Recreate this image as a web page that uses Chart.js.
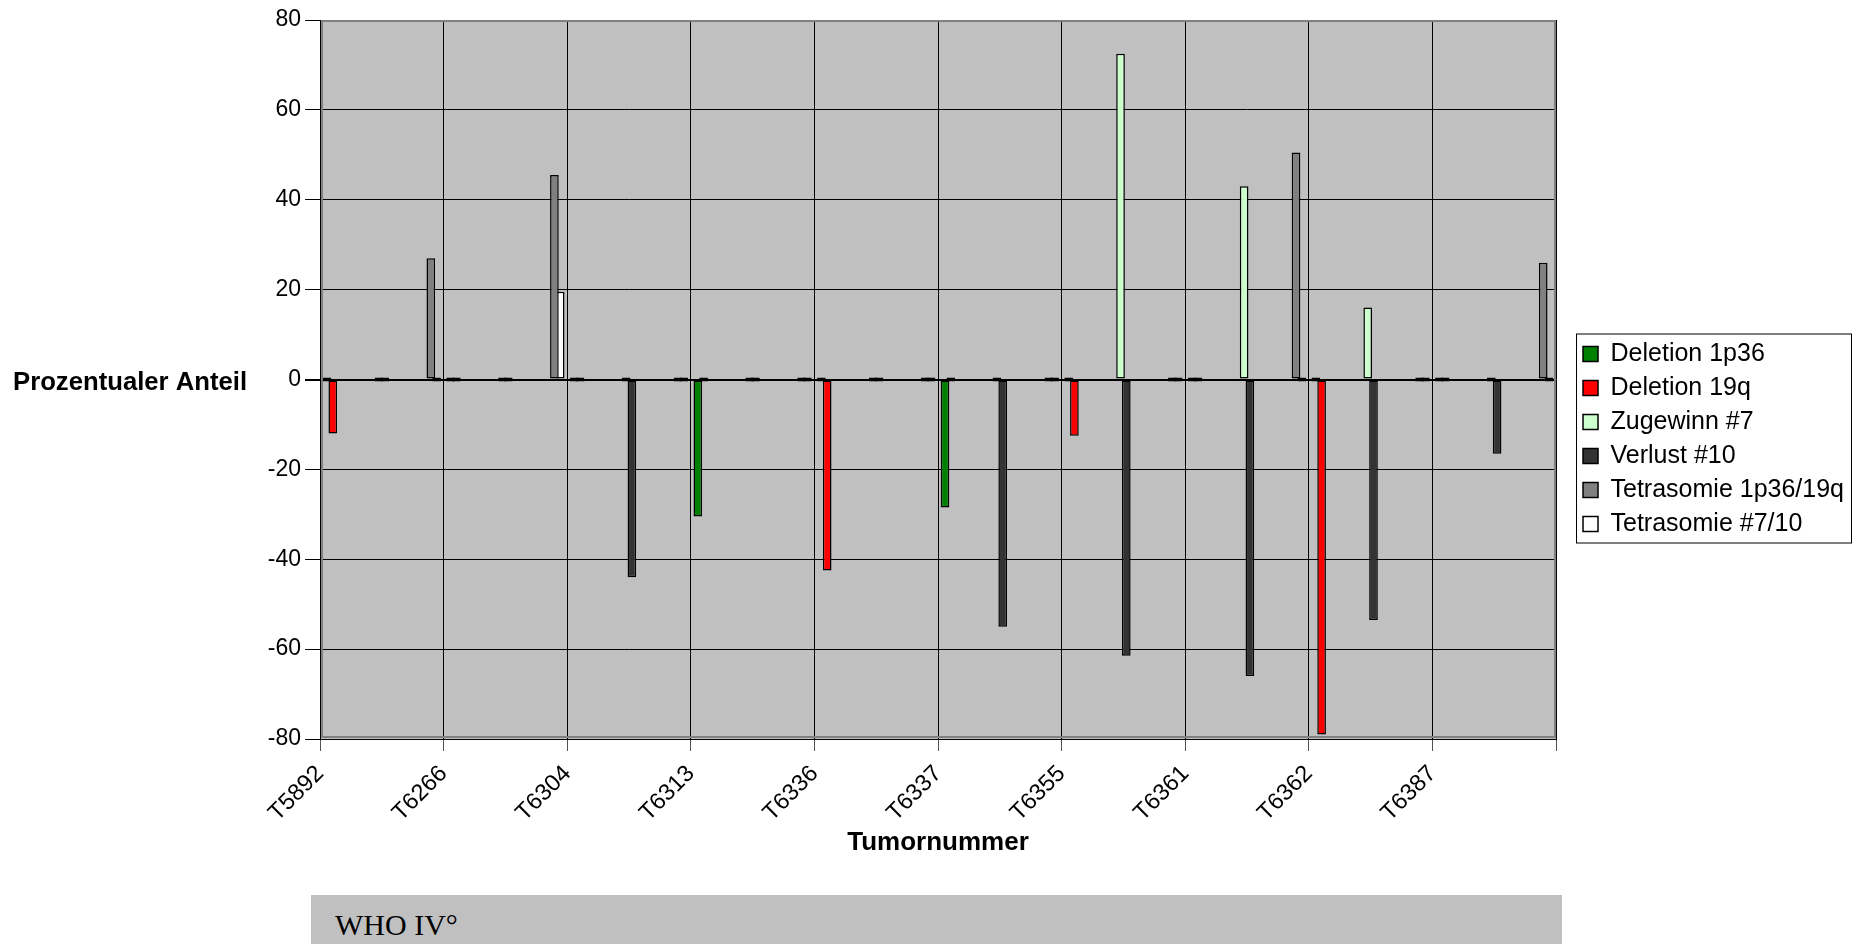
<!DOCTYPE html>
<html>
<head>
<meta charset="utf-8">
<title>Tumornummer</title>
<script src="https://cdn.jsdelivr.net/npm/chart.js@4.4.1/dist/chart.umd.min.js"></script>
<style>
  html, body { margin: 0; padding: 0; background: #fff; }
  #wrap { position: relative; width: 1854px; height: 944px; }
  #who {
    position: absolute; left: 311px; top: 895px; width: 1251px; height: 49px;
    box-sizing: border-box; padding: 15px 0 0 24px;
    background: #c0c0c0; color: #000;
    font-family: 'Liberation Serif', 'Times New Roman', serif; font-size: 30px; line-height: 30px;
  }
</style>
</head>
<body>
<div id="wrap">
  <canvas id="tumorChart"></canvas>
  <div id="who">WHO IV°</div>
</div>
<script>
"use strict";

// categories
const tumors = ['T5892', 'T6266', 'T6304', 'T6313', 'T6336', 'T6337', 'T6355', 'T6361', 'T6362', 'T6387'];

// series values (Prozent)
const deletion1p36    = [0, 0, 0, -30.5, 0, -28.5, 0, 0, 0, 0];
const deletion19q     = [-12, 0, 0, 0, -42.5, 0, -12.5, 0, -79, 0];
const zugewinn7       = [0, 0, 0, 0, 0, 0, 72.5, 43, 16, 0];
const verlust10       = [0, 0, -44, 0, 0, -55, -61.5, -66, -53.5, -16.5];
const tetra1p36_19q   = [27, 45.5, 0, 0, 0, 0, 0, 50.5, 0, 26];
const tetra7_10       = [0, 19.5, 0, 0, 0, 0, 0, 0, 0, 0];

// y ticks
const yMin = -80;
const yMax = 80;
const yStep = 20;

const FONT = "'Liberation Sans', Arial, sans-serif";

function series(label, data, color) {
  return { label: label, data: data, backgroundColor: color };
}

// empty datasets that only hold a slot, so the bars come in pairs like the original
function spacers(n) {
  const list = [];
  for (let i = 0; i < n; i++) {
    list.push({ label: '', data: [], backgroundColor: 'rgba(0,0,0,0)' });
  }
  return list;
}

const datasets = [
  series('Deletion 1p36', deletion1p36, '#008000'),
  series('Deletion 19q', deletion19q, '#ff0000'),
  ...spacers(7),
  series('Zugewinn #7', zugewinn7, '#ccffcc'),
  series('Verlust #10', verlust10, '#333333'),
  ...spacers(7),
  series('Tetrasomie 1p36/19q', tetra1p36_19q, '#808080'),
  series('Tetrasomie #7/10', tetra7_10, '#ffffff')
];

// grey plot background + frame
const plotBackground = {
  id: 'plotBackground',
  beforeDraw(chart) {
    const a = chart.chartArea;
    const ctx = chart.ctx;
    ctx.save();
    ctx.fillStyle = '#c0c0c0';
    ctx.fillRect(a.left, a.top, a.right - a.left, a.bottom - a.top);
    ctx.restore();
  },
  beforeDatasetsDraw(chart) {
    const a = chart.chartArea;
    const ctx = chart.ctx;
    ctx.save();
    ctx.strokeStyle = '#808080';
    ctx.lineWidth = 2;
    ctx.strokeRect(a.left + 2, a.top + 1, a.right - a.left - 3, a.bottom - a.top - 3);
    ctx.restore();
  }
};

// horizontal y title at the zero line
const yTitle = {
  id: 'yTitle',
  afterDraw(chart) {
    const ctx = chart.ctx;
    const y = chart.scales.y.getPixelForValue(0) + 3;
    ctx.save();
    ctx.fillStyle = '#000';
    ctx.font = 'bold 25.7px ' + FONT;
    ctx.textAlign = 'left';
    ctx.textBaseline = 'middle';
    ctx.fillText('Prozentualer Anteil', 13, y);
    ctx.restore();
  }
};

// move legend down a bit and draw a frame round it
const legendFrame = {
  id: 'legendFrame',
  afterLayout(chart) {
    const lg = chart.legend;
    const shift = 439 - (lg.top + lg.bottom) / 2;
    lg.top += shift;
    lg.bottom += shift;
  },
  afterDraw(chart) {
    const lg = chart.legend;
    const hb = lg.legendHitBoxes;
    if (!hb || !hb.length) return;
    const last = hb[hb.length - 1];
    const ctx = chart.ctx;
    ctx.save();
    ctx.strokeStyle = '#000';
    ctx.lineWidth = 1;
    const x0 = lg.left + 2.5;
    const x1 = lg.right - 2.5;
    const y0 = hb[0].top - 7.5;
    const y1 = last.top + last.height + 6.5;
    ctx.strokeRect(x0, y0, x1 - x0, y1 - y0);
    ctx.restore();
  }
};

const ctx = document.getElementById('tumorChart').getContext('2d');
const tumorChart = new Chart(ctx, {
  type: 'bar',
  data: {
    labels: tumors,
    datasets: datasets
  },
  options: {
    responsive: true,
    maintainAspectRatio: false,
    animation: false,
    layout: { padding: { top: 20, right: 0, bottom: 0, left: 0 } },
    datasets: {
      bar: {
        categoryPercentage: 0.933,
        barPercentage: 1.5,
        borderColor: '#000',
        // zero values show as small black dashes on the zero line
        borderWidth: c => (c.raw === 0 ? 2 : 1.5),
        borderSkipped: false,
        minBarLength: 4
      }
    },
    scales: {
      x: {
        offset: true,
        grid: { offset: true, color: '#000', lineWidth: 1, tickLength: 12, tickColor: '#555' },
        border: { color: '#000', width: 1 },
        ticks: {
          color: '#000',
          font: { family: FONT, size: 23.5 },
          minRotation: 45,
          maxRotation: 45,
          autoSkip: false,
          labelOffset: -61.65,
          padding: 9
        },
        title: {
          display: true,
          text: 'Tumornummer',
          color: '#000',
          font: { family: FONT, size: 26, weight: 'bold' },
          padding: { top: 0, bottom: 86 }
        },
        afterFit(scale) { scale.height = 205; }
      },
      y: {
        min: yMin,
        max: yMax,
        ticks: { stepSize: yStep, color: '#000', font: { family: FONT, size: 23 }, padding: 4 },
        grid: {
          color: '#000',
          lineWidth: c => (c.tick && c.tick.value === 0 ? 2 : 1),
          tickLength: 15
        },
        border: { color: '#000', width: 1 },
        afterFit(scale) { scale.width = 320; }
      },
      gap: {
        position: 'right',
        grid: { display: false },
        ticks: { display: false },
        border: { display: false },
        afterFit(scale) { scale.width = 18; }
      }
    },
    plugins: {
      legend: {
        position: 'right',
        align: 'center',
        labels: {
          color: '#000',
          font: { family: FONT, size: 25 },
          boxWidth: 15,
          boxHeight: 15,
          padding: 9,
          generateLabels(chart) {
            return Chart.defaults.plugins.legend.labels.generateLabels(chart).map(item => {
              item.strokeStyle = '#000';
              item.lineWidth = 1.5;
              return item;
            });
          },
          filter: item => item.text !== ''
        }
      },
      tooltip: { enabled: false }
    }
  },
  plugins: [plotBackground, yTitle, legendFrame]
});
</script>
</body>
</html>
